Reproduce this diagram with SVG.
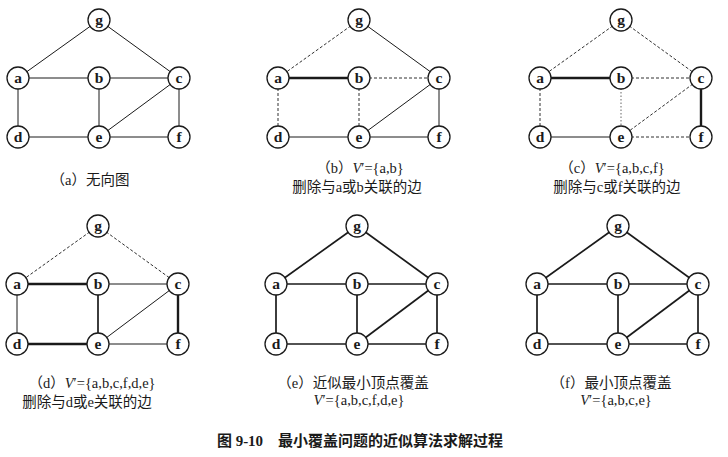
<svg xmlns="http://www.w3.org/2000/svg" width="728" height="457" viewBox="0 0 728 457">
<style>
.bg{fill:#fff}
line{stroke:#1a1a1a;fill:none}
.s{stroke-width:1}
.d{stroke-width:0.9;stroke-dasharray:3 2}
.o{stroke-width:0.9;stroke-dasharray:1.5 2;stroke:#555}
.t{stroke-width:2.4}
.m{stroke-width:1.7}
circle{fill:#fff;stroke:#1a1a1a;stroke-width:1.3}
.n{font-family:"Liberation Serif",serif;font-size:15.5px;font-weight:bold;text-anchor:middle;fill:#1a1a1a}
.l{font-family:"Liberation Serif","Noto Sans CJK SC",serif;font-size:14.5px;text-anchor:middle;fill:#1a1a1a}
.cap{font-family:"Liberation Serif","Noto Sans CJK SC",serif;font-size:15px;font-weight:bold;text-anchor:middle;fill:#1a1a1a}
</style>
<rect class="bg" width="728" height="457"/>

<!-- Panel a -->
<g id="panel-a" transform="translate(18,20)">
<g id="edges-a">
<line class="s" x1="81" y1="0" x2="0" y2="58"/>
<line class="s" x1="81" y1="0" x2="161" y2="58"/>
<line class="s" x1="0" y1="58" x2="81" y2="58"/>
<line class="s" x1="81" y1="58" x2="161" y2="58"/>
<line class="s" x1="0" y1="58" x2="0" y2="117"/>
<line class="s" x1="81" y1="58" x2="81" y2="117"/>
<line class="s" x1="161" y1="58" x2="81" y2="117"/>
<line class="s" x1="161" y1="58" x2="161" y2="117"/>
<line class="s" x1="0" y1="117" x2="81" y2="117"/>
<line class="s" x1="81" y1="117" x2="161" y2="117"/>
</g>
<g id="a-g"><circle cx="81" cy="0" r="11"/><text class="n" x="81" y="5">g</text></g>
<g id="a-a"><circle cx="0" cy="58" r="11"/><text class="n" x="0" y="63">a</text></g>
<g id="a-b"><circle cx="81" cy="58" r="11"/><text class="n" x="81" y="63">b</text></g>
<g id="a-c"><circle cx="161" cy="58" r="11"/><text class="n" x="161" y="63">c</text></g>
<g id="a-d"><circle cx="0" cy="117" r="11"/><text class="n" x="0" y="122">d</text></g>
<g id="a-e"><circle cx="81" cy="117" r="11"/><text class="n" x="81" y="122">e</text></g>
<g id="a-f"><circle cx="161" cy="117" r="11"/><text class="n" x="161" y="122">f</text></g>
</g>
<text class="l" x="90" y="185">（a）无向图</text>

<!-- Panel b -->
<g id="panel-b" transform="translate(278,20)">
<g id="edges-b">
<line class="d" x1="81" y1="0" x2="0" y2="58"/>
<line class="s" x1="81" y1="0" x2="161" y2="58"/>
<line class="t" x1="0" y1="58" x2="81" y2="58"/>
<line class="d" x1="81" y1="58" x2="161" y2="58"/>
<line class="d" x1="0" y1="58" x2="0" y2="117"/>
<line class="d" x1="81" y1="58" x2="81" y2="117"/>
<line class="s" x1="161" y1="58" x2="81" y2="117"/>
<line class="s" x1="161" y1="58" x2="161" y2="117"/>
<line class="s" x1="0" y1="117" x2="81" y2="117"/>
<line class="s" x1="81" y1="117" x2="161" y2="117"/>
</g>
<g id="b-g"><circle cx="81" cy="0" r="11"/><text class="n" x="81" y="5">g</text></g>
<g id="b-a"><circle cx="0" cy="58" r="11"/><text class="n" x="0" y="63">a</text></g>
<g id="b-b"><circle cx="81" cy="58" r="11"/><text class="n" x="81" y="63">b</text></g>
<g id="b-c"><circle cx="161" cy="58" r="11"/><text class="n" x="161" y="63">c</text></g>
<g id="b-d"><circle cx="0" cy="117" r="11"/><text class="n" x="0" y="122">d</text></g>
<g id="b-e"><circle cx="81" cy="117" r="11"/><text class="n" x="81" y="122">e</text></g>
<g id="b-f"><circle cx="161" cy="117" r="11"/><text class="n" x="161" y="122">f</text></g>
</g>
<text class="l" x="360" y="173">（b）<tspan font-style="italic">V</tspan>′={a,b}</text>
<text class="l" x="357" y="192">删除与a或b关联的边</text>

<!-- Panel c -->
<g id="panel-c" transform="translate(540,20)">
<g id="edges-c">
<line class="d" x1="81" y1="0" x2="0" y2="58"/>
<line class="d" x1="81" y1="0" x2="161" y2="58"/>
<line class="t" x1="0" y1="58" x2="81" y2="58"/>
<line class="d" x1="81" y1="58" x2="161" y2="58"/>
<line class="d" x1="0" y1="58" x2="0" y2="117"/>
<line class="o" x1="81" y1="58" x2="81" y2="117"/>
<line class="d" x1="161" y1="58" x2="81" y2="117"/>
<line class="t" x1="161" y1="58" x2="161" y2="117"/>
<line class="s" x1="0" y1="117" x2="81" y2="117"/>
<line class="d" x1="81" y1="117" x2="161" y2="117"/>
</g>
<g id="c-g"><circle cx="81" cy="0" r="11"/><text class="n" x="81" y="5">g</text></g>
<g id="c-a"><circle cx="0" cy="58" r="11"/><text class="n" x="0" y="63">a</text></g>
<g id="c-b"><circle cx="81" cy="58" r="11"/><text class="n" x="81" y="63">b</text></g>
<g id="c-c"><circle cx="161" cy="58" r="11"/><text class="n" x="161" y="63">c</text></g>
<g id="c-d"><circle cx="0" cy="117" r="11"/><text class="n" x="0" y="122">d</text></g>
<g id="c-e"><circle cx="81" cy="117" r="11"/><text class="n" x="81" y="122">e</text></g>
<g id="c-f"><circle cx="161" cy="117" r="11"/><text class="n" x="161" y="122">f</text></g>
</g>
<text class="l" x="612" y="173">（c）<tspan font-style="italic">V</tspan>′={a,b,c,f}</text>
<text class="l" x="617" y="192">删除与c或f关联的边</text>

<!-- Panel d -->
<g id="panel-d" transform="translate(17,226)">
<g id="edges-d">
<line class="d" x1="81" y1="0" x2="0" y2="58"/>
<line class="d" x1="81" y1="0" x2="161" y2="58"/>
<line class="t" x1="0" y1="58" x2="81" y2="58"/>
<line class="s" x1="81" y1="58" x2="161" y2="58"/>
<line class="s" x1="0" y1="58" x2="0" y2="118"/>
<line class="m" x1="81" y1="58" x2="81" y2="118"/>
<line class="s" x1="161" y1="58" x2="81" y2="118"/>
<line class="t" x1="161" y1="58" x2="161" y2="118"/>
<line class="t" x1="0" y1="118" x2="81" y2="118"/>
<line class="s" x1="81" y1="118" x2="161" y2="118"/>
</g>
<g id="d-g"><circle cx="81" cy="0" r="11"/><text class="n" x="81" y="5">g</text></g>
<g id="d-a"><circle cx="0" cy="58" r="11"/><text class="n" x="0" y="63">a</text></g>
<g id="d-b"><circle cx="81" cy="58" r="11"/><text class="n" x="81" y="63">b</text></g>
<g id="d-c"><circle cx="161" cy="58" r="11"/><text class="n" x="161" y="63">c</text></g>
<g id="d-d"><circle cx="0" cy="118" r="11"/><text class="n" x="0" y="123">d</text></g>
<g id="d-e"><circle cx="81" cy="118" r="11"/><text class="n" x="81" y="123">e</text></g>
<g id="d-f"><circle cx="161" cy="118" r="11"/><text class="n" x="161" y="123">f</text></g>
</g>
<text class="l" x="92" y="388">（d）<tspan font-style="italic">V</tspan>′={a,b,c,f,d,e}</text>
<text class="l" x="87" y="407">删除与d或e关联的边</text>

<!-- Panel e -->
<g id="panel-e" transform="translate(276,226)">
<g id="edges-e">
<line class="m" x1="81" y1="0" x2="0" y2="58"/>
<line class="m" x1="81" y1="0" x2="161" y2="58"/>
<line class="m" x1="0" y1="58" x2="81" y2="58"/>
<line class="m" x1="81" y1="58" x2="161" y2="58"/>
<line class="m" x1="0" y1="58" x2="0" y2="118"/>
<line class="m" x1="81" y1="58" x2="81" y2="118"/>
<line class="m" x1="161" y1="58" x2="81" y2="118"/>
<line class="m" x1="161" y1="58" x2="161" y2="118"/>
<line class="m" x1="0" y1="118" x2="81" y2="118"/>
<line class="m" x1="81" y1="118" x2="161" y2="118"/>
</g>
<g id="e-g"><circle cx="81" cy="0" r="11"/><text class="n" x="81" y="5">g</text></g>
<g id="e-a"><circle cx="0" cy="58" r="11"/><text class="n" x="0" y="63">a</text></g>
<g id="e-b"><circle cx="81" cy="58" r="11"/><text class="n" x="81" y="63">b</text></g>
<g id="e-c"><circle cx="161" cy="58" r="11"/><text class="n" x="161" y="63">c</text></g>
<g id="e-d"><circle cx="0" cy="118" r="11"/><text class="n" x="0" y="123">d</text></g>
<g id="e-e"><circle cx="81" cy="118" r="11"/><text class="n" x="81" y="123">e</text></g>
<g id="e-f"><circle cx="161" cy="118" r="11"/><text class="n" x="161" y="123">f</text></g>
</g>
<text class="l" x="353" y="388">（e）近似最小顶点覆盖</text>
<text class="l" x="359" y="405"><tspan font-style="italic">V</tspan>′={a,b,c,f,d,e}</text>

<!-- Panel f -->
<g id="panel-f" transform="translate(537,226)">
<g id="edges-f">
<line class="m" x1="81" y1="0" x2="0" y2="58"/>
<line class="m" x1="81" y1="0" x2="161" y2="58"/>
<line class="m" x1="0" y1="58" x2="81" y2="58"/>
<line class="m" x1="81" y1="58" x2="161" y2="58"/>
<line class="m" x1="0" y1="58" x2="0" y2="118"/>
<line class="m" x1="81" y1="58" x2="81" y2="118"/>
<line class="m" x1="161" y1="58" x2="81" y2="118"/>
<line class="m" x1="161" y1="58" x2="161" y2="118"/>
<line class="m" x1="0" y1="118" x2="81" y2="118"/>
<line class="m" x1="81" y1="118" x2="161" y2="118"/>
</g>
<g id="f-g"><circle cx="81" cy="0" r="11"/><text class="n" x="81" y="5">g</text></g>
<g id="f-a"><circle cx="0" cy="58" r="11"/><text class="n" x="0" y="63">a</text></g>
<g id="f-b"><circle cx="81" cy="58" r="11"/><text class="n" x="81" y="63">b</text></g>
<g id="f-c"><circle cx="161" cy="58" r="11"/><text class="n" x="161" y="63">c</text></g>
<g id="f-d"><circle cx="0" cy="118" r="11"/><text class="n" x="0" y="123">d</text></g>
<g id="f-e"><circle cx="81" cy="118" r="11"/><text class="n" x="81" y="123">e</text></g>
<g id="f-f"><circle cx="161" cy="118" r="11"/><text class="n" x="161" y="123">f</text></g>
</g>
<text class="l" x="611" y="388">（f）最小顶点覆盖</text>
<text class="l" x="616" y="405"><tspan font-style="italic">V</tspan>′={a,b,c,e}</text>

<text class="cap" x="360" y="446" xml:space="preserve">图 9-10    最小覆盖问题的近似算法求解过程</text>
</svg>
